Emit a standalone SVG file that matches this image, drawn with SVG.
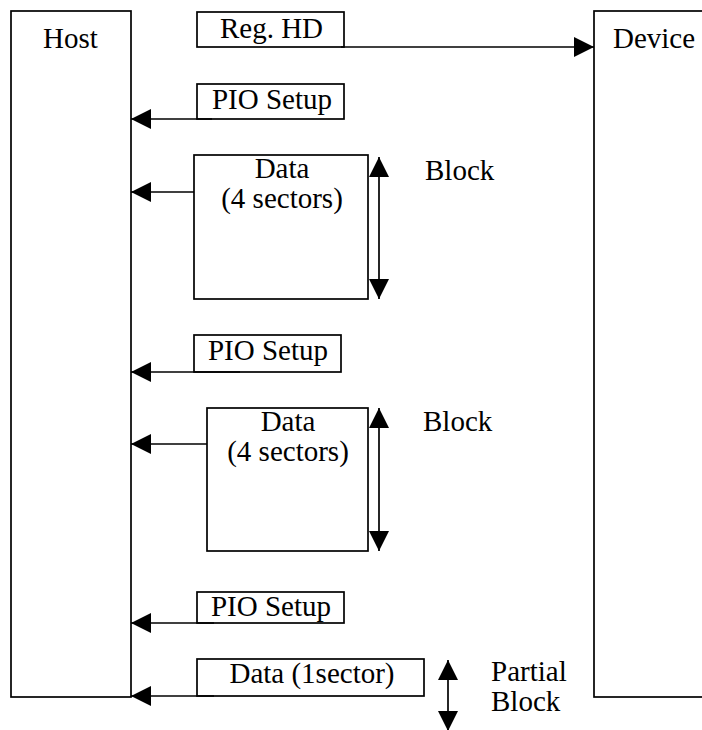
<svg xmlns="http://www.w3.org/2000/svg" width="702" height="730" viewBox="0 0 702 730">
<style>
.box{fill:#fff;stroke:#000;stroke-width:1.7}
.ln{fill:none;stroke:#000;stroke-width:1.7}
text{font-family:'Liberation Serif','Times New Roman',serif;font-size:29px;fill:#000}
.c{text-anchor:middle}
</style>
<defs>
<marker id="ah" markerUnits="userSpaceOnUse" markerWidth="20" markerHeight="20" viewBox="0 0 20 20" refX="20" refY="10" orient="auto-start-reverse">
<path d="M0,0 L20,10 L0,20 Z" fill="#000"/>
</marker>
</defs>
<g id="host"><rect class="box" x="11" y="11" width="120" height="686"/><text x="43" y="48">Host</text></g>
<g id="device"><rect class="box" x="594" y="11" width="130" height="686"/><text x="613" y="48">Device</text></g>
<g id="reghd"><rect class="box" x="197" y="12" width="147" height="35"/><text class="c" x="271.5" y="38">Reg. HD</text></g>
<g id="pio1"><rect class="box" x="197" y="84" width="147" height="35"/><text class="c" x="272" y="109">PIO Setup</text></g>
<g id="data1"><rect class="box" x="194" y="155" width="174" height="144"/><text class="c" x="282" y="178">Data</text><text class="c" x="282" y="208">(4 sectors)</text></g>
<g id="block1"><text x="425" y="180">Block</text></g>
<g id="pio2"><rect class="box" x="194" y="335" width="147" height="37"/><text class="c" x="268" y="360">PIO Setup</text></g>
<g id="data2"><rect class="box" x="207" y="408" width="161" height="143"/><text class="c" x="288" y="431">Data</text><text class="c" x="288" y="461">(4 sectors)</text></g>
<g id="block2"><text x="423" y="431">Block</text></g>
<g id="pio3"><rect class="box" x="197" y="592" width="147" height="31"/><text class="c" x="271" y="616">PIO Setup</text></g>
<g id="data3"><rect class="box" x="197" y="659" width="227" height="37"/><text class="c" x="312" y="683">Data (1sector)</text></g>
<g id="partial"><text x="491" y="681">Partial</text><text x="491" y="711">Block</text></g>
<g id="connectors">
<line class="ln" x1="341" y1="47" x2="594" y2="47" marker-end="url(#ah)"/>
<line class="ln" x1="212" y1="119" x2="131" y2="119" marker-end="url(#ah)"/>
<line class="ln" x1="194" y1="192" x2="131" y2="192" marker-end="url(#ah)"/>
<line class="ln" x1="240" y1="372" x2="131" y2="372" marker-end="url(#ah)"/>
<line class="ln" x1="207" y1="444" x2="131" y2="444" marker-end="url(#ah)"/>
<line class="ln" x1="214" y1="623" x2="131" y2="623" marker-end="url(#ah)"/>
<line class="ln" x1="214" y1="696" x2="131" y2="696" marker-end="url(#ah)"/>
<line class="ln" x1="379" y1="157" x2="379" y2="299" marker-start="url(#ah)" marker-end="url(#ah)"/>
<line class="ln" x1="379" y1="408" x2="379" y2="551" marker-start="url(#ah)" marker-end="url(#ah)"/>
<line class="ln" x1="448" y1="660" x2="448" y2="731" marker-start="url(#ah)" marker-end="url(#ah)"/>
</g>
</svg>
